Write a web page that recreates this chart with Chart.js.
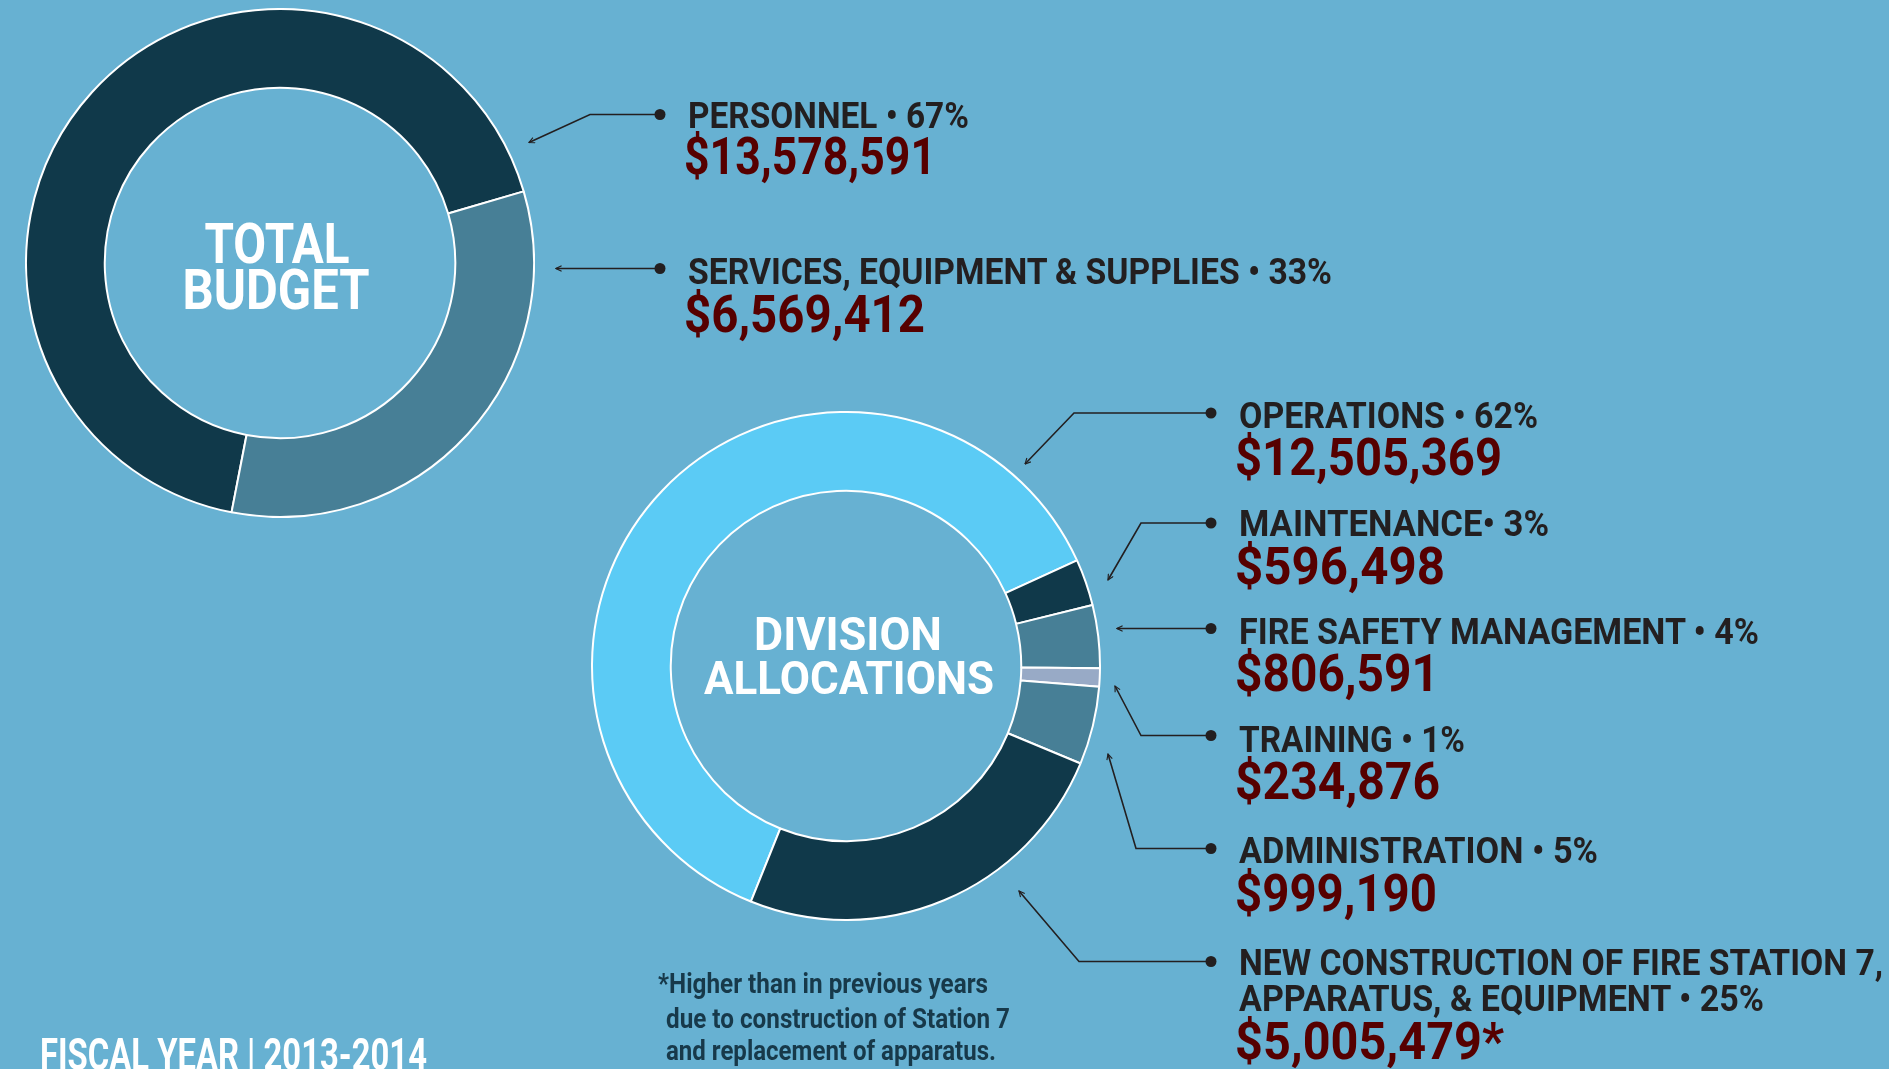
<!DOCTYPE html>
<html>
<head>
<meta charset="utf-8">
<title>Fiscal Year 2013-2014 Budget</title>
<script src="https://cdn.jsdelivr.net/npm/chart.js@4.4.1/dist/chart.umd.min.js"></script>
<style>
html,body{margin:0;padding:0}
body{width:1889px;height:1069px;background:#67b1d2;position:relative;overflow:hidden;font-family:Roboto,"Open Sans",sans-serif}
canvas{position:absolute}
#budget{left:25px;top:8px}
#division{left:591px;top:411px}
#notes{position:absolute;left:0;top:0}
</style>
</head>
<body>

<canvas id="budget" width="510" height="510"></canvas>
<canvas id="division" width="510" height="510"></canvas>
<svg id="notes" xmlns="http://www.w3.org/2000/svg" width="1889" height="1069"></svg>

<script>
// ---- data ----
const budgetLabels=["Personnel","Services, Equipment & Supplies"]
const budgetValues=[13578591,6569412]
const budgetPercents=[67,33]
const budgetColors=["#10394a","#477f96"]

const divisionLabels=[
"Operations","Maintenance","Fire Safety Management",
"Training","Administration","New Construction of Fire Station 7, Apparatus, & Equipment"
]
const divisionValues=[12505369,596498,806591,234876,999190,5005479]
const divisionPercents=[62,3,4,1,5,25]
const divisionColors=["#5bcbf5","#10394a","#477f96","#98aac6","#477f96","#10394a"]

// headings as printed (line breaks where the original wraps)
const budgetTitles=[["PERSONNEL"],["SERVICES, EQUIPMENT & SUPPLIES"]]
const divisionTitles=[
["OPERATIONS"],["MAINTENANCE"],["FIRE SAFETY MANAGEMENT"],
["TRAINING"],["ADMINISTRATION"],["NEW CONSTRUCTION OF FIRE STATION 7,","APPARATUS, & EQUIPMENT"]
]
const footnote=["*Higher than in previous years","due to construction of Station 7","and replacement of apparatus."]

// ---- layout (label blocks + leader lines), page pixels ----
const budgetNotes=[
{x:688,base:[128],w:[281],money:174,mw:252,line:[[660,114.5],[590,114.5],[529,142.5]]},
{x:688,base:[284],w:[644],money:332,mw:241,line:[[660,268.5],[556,268.5]]}
]
const divisionNotes=[
{x:1239,base:[428],w:[299],money:475,mw:267,line:[[1211,413],[1074,413],[1025,464]]},
{x:1239,base:[536],w:[310],money:584,mw:210,line:[[1211,523],[1141,523],[1108,580]]},
{x:1239,base:[644],w:[520],money:691,mw:204,line:[[1211,628.5],[1117,628.5]]},
{x:1239,base:[752],w:[226],money:799,mw:205,line:[[1211,735.5],[1141,735.5],[1115,686]]},
{x:1239,base:[863],w:[359],money:911,mw:202,line:[[1211,848.5],[1136,848.5],[1108,754]]},
{x:1239,base:[975,1011],w:[644,525],money:1059,mw:269,line:[[1211,961.5],[1079,961.5],[1019,891]]}
]

const ink="#231f20"
const maroon="#560000"
const svgNS="http://www.w3.org/2000/svg"
const notes=document.getElementById("notes")

function el(tag,attrs){
let e=document.createElementNS(svgNS,tag)
for(let k in attrs) e.setAttribute(k,attrs[k])
notes.appendChild(e)
return e
}

function txt(str,x,y,size,color,width,anchor){
let t=el("text",{
x:x,y:y,
"font-size":size,
"font-weight":700,
"font-family":"Roboto, 'Open Sans', sans-serif",
fill:color,
"text-anchor":anchor||"start",
textLength:width,
lengthAdjust:"spacingAndGlyphs"
})
t.textContent=str
return t
}

function money(v){
return "$"+v.toLocaleString("en-US")
}

// arrow head for leader lines
let defs=el("defs",{})
let mk=document.createElementNS(svgNS,"marker")
mk.setAttribute("id","tip")
mk.setAttribute("viewBox","0 0 10 10")
mk.setAttribute("refX","9")
mk.setAttribute("refY","5")
mk.setAttribute("markerWidth","7")
mk.setAttribute("markerHeight","7")
mk.setAttribute("markerUnits","userSpaceOnUse")
mk.setAttribute("orient","auto")
let mp=document.createElementNS(svgNS,"path")
mp.setAttribute("d","M1,1 L9,5 L1,9")
mp.setAttribute("fill","none")
mp.setAttribute("stroke",ink)
mp.setAttribute("stroke-width","1.6")
mk.appendChild(mp)
defs.appendChild(mk)

function leader(pts){
el("polyline",{
points:pts.map(p=>p.join(",")).join(" "),
fill:"none",stroke:ink,"stroke-width":1.6,
"marker-end":"url(#tip)"
})
el("circle",{cx:pts[0][0],cy:pts[0][1],r:5.5,fill:ink})
}

function labelBlock(n,titles,pct,value,star){
titles.forEach((line,i)=>{
let s=line
if(i==titles.length-1) s+=(pct==3?"\u2022 ":" \u2022 ")+pct+"%"
txt(s,n.x,n.base[i],36,ink,n.w[i])
})
txt(money(value)+(star?"*":""),n.x-4,n.money,51,maroon,n.mw)
leader(n.line)
}

// ---- charts ----
function donut(id,labels,values,colors,rotation){
return new Chart(document.getElementById(id),{
type:"doughnut",
data:{
labels:labels,
datasets:[{
data:values,
backgroundColor:colors,
borderColor:"#ffffff",
borderWidth:2,
hoverOffset:0
}]
},
options:{
responsive:false,
animation:false,
events:[],
cutout:"69%",
rotation:rotation,
layout:{padding:0},
plugins:{
legend:{display:false},
tooltip:{enabled:false}
}
}
})
}

let budgetChart=donut("budget",budgetLabels,budgetValues,budgetColors,191)
let divisionChart=donut("division",divisionLabels,divisionValues,divisionColors,202)

function centre(chart){
let arc=chart.getDatasetMeta(0).data[0]
let c=chart.canvas
return [c.offsetLeft+arc.x,c.offsetTop+arc.y]
}

let bc=centre(budgetChart)
txt("TOTAL",bc[0]-3,bc[1]+0,55,"#ffffff",145,"middle")
txt("BUDGET",bc[0]-4,bc[1]+46,55,"#ffffff",187,"middle")

let dc=centre(divisionChart)
txt("DIVISION",dc[0]+2,dc[1]-16,47,"#ffffff",188,"middle")
txt("ALLOCATIONS",dc[0]+3,dc[1]+28,47,"#ffffff",290,"middle")

budgetTitles.forEach((t,i)=>labelBlock(budgetNotes[i],t,budgetPercents[i],budgetValues[i],false))
divisionTitles.forEach((t,i)=>labelBlock(divisionNotes[i],t,divisionPercents[i],divisionValues[i],i==5))

txt(footnote[0],658,993,28,"#17394a",330)
txt(footnote[1],666,1028,28,"#17394a",344)
txt(footnote[2],666,1060,28,"#17394a",330)

txt("FISCAL YEAR | 2013-2014",40,1070,45,"#ffffff",387)
</script>
</body>
</html>
